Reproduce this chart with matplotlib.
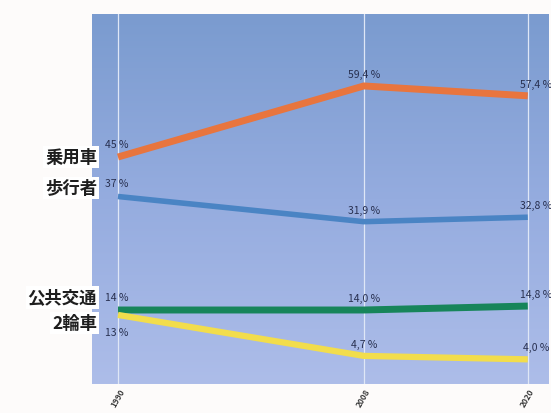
import numpy as np
import matplotlib
matplotlib.use("Agg")
import matplotlib.pyplot as plt
from matplotlib.colors import LinearSegmentedColormap

plt.rcParams['font.family'] = ['Noto Sans CJK JP', 'DejaVu Sans']

years = [1990, 2008, 2020]
year_labels = ["1990", "2008", "2020"]
modes = ["乗用車", "歩行者", "公共交通", "2輪車"]
car = [45, 59.4, 57.4]
walk = [37, 31.9, 32.8]
transit = [14, 14.0, 14.8]
twowheel = [13, 4.7, 4.0]
series = [car, walk, transit, twowheel]
colors = ["#e8753e", "#4a84c4", "#17855a", "#f2dd4c"]
widths = [5.0, 4.0, 5.0, 4.5]
# offsets (points) for the left-side category names
name_offsets = [(-15, 0), (-15, 6), (-15, 9), (-15, -6)]
# first value label placement: above (+) or below (-)
first_dy = [6, 6, 6, -16]

fig = plt.figure(figsize=(5.51, 4.14), dpi=100, facecolor="#fdfbfa")
ax = fig.add_axes([0.167, 0.07, 0.828, 0.894])

# gradient background
cmap = LinearSegmentedColormap.from_list("bg", ["#adbde9", "#95acdf", "#7a9bcf"])
grad = np.linspace(0, 1, 256).reshape(-1, 1)
ax.imshow(grad, extent=[0, 1, 0, 1], transform=ax.transAxes, cmap=cmap,
          origin="lower", aspect="auto", zorder=0)

for x in years:
    ax.axvline(x, color="#dfe7f6", lw=0.9, zorder=1)

for k, (vals, c, w) in enumerate(zip(series, colors, widths)):
    ax.plot(years, vals, color=c, lw=w, solid_capstyle="butt",
            solid_joinstyle="miter", zorder=3)
    for i, (x, v) in enumerate(zip(years, vals)):
        if i == 0:
            txt = f"{v:.0f} %"
            ax.annotate(txt, (x, v), xytext=(-9, first_dy[k]), textcoords="offset points",
                        ha="left", va="bottom", fontsize=7.5, color="#283050", zorder=4)
        else:
            txt = f"{v:.1f}".replace(".", ",") + " %"
            dx = 0 if i == 1 else 6
            ax.annotate(txt, (x, v), xytext=(dx, 5), textcoords="offset points",
                        ha="center", va="bottom", fontsize=7.5, color="#283050", zorder=4)

for name, vals, off in zip(modes, series, name_offsets):
    ax.annotate(name, (years[0], vals[0]), xytext=off,
                textcoords="offset points", ha="right", va="center",
                fontsize=12.5, fontweight="bold", color="#1e1e1e",
                bbox=dict(boxstyle="square,pad=0.12", fc="white", ec="none"),
                annotation_clip=False, zorder=5)

ax.set_xlim(1988.1, 2021.5)
ax.set_ylim(-1, 74)
ax.set_xticks(years)
ax.set_xticklabels(year_labels, rotation=60, fontsize=6, fontweight="bold",
                   color="#3a3a3a", ha="center", va="top")
ax.tick_params(axis="x", length=0, pad=2)
ax.set_yticks([])
for s in ax.spines.values():
    s.set_visible(False)

fig.savefig("out.png", dpi=100, facecolor=fig.get_facecolor())
